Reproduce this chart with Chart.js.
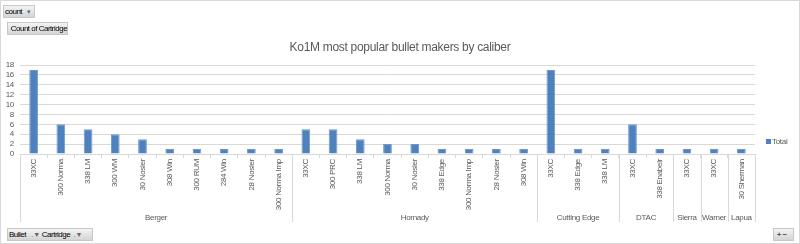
<!DOCTYPE html>
<html>
<head>
<meta charset="utf-8">
<script src="https://cdn.jsdelivr.net/npm/chart.js@4/dist/chart.umd.min.js"></script>
<style>
  html, body { margin: 0; padding: 0; background: #fff; }
  #wrap { position: relative; width: 800px; height: 244px; box-sizing: border-box; border: 1px solid #d9d9d9; overflow: hidden; }
  #wrap canvas { position: absolute; left: -1px; top: -1px; }
  .btn { position: absolute; font: 8px 'Liberation Sans', sans-serif; color: #000; letter-spacing: -0.5px;
         background: linear-gradient(#f4f4f4, #d4d4d4); border: 1px solid #c8c8c8; box-sizing: border-box;
         line-height: 12px; padding: 0 1px; white-space: nowrap; }
  .btn span { color: #666; font-size: 7px; letter-spacing: 0; }
</style>
</head>
<body>
<div id="wrap">
  <canvas id="myChart" width="800" height="244"></canvas>
  <div class="btn" style="left:2px;top:4px;height:13px;width:32px;">count &nbsp;&nbsp;<span>&#9662;</span></div>
  <div class="btn" style="left:6px;top:21px;height:13px;width:61px;">&nbsp;Count of Cartridge</div>
  <div class="btn" style="left:6px;top:227px;height:13px;width:86px;">Bullet &nbsp;&nbsp;<span>.&#9660;</span> Cartridge &nbsp;<span>.&#9660;</span></div>
  <div class="btn" style="left:772px;top:227px;height:13px;width:21px;">&nbsp;+ &minus;</div>
</div>
<script>
const groups = ['Berger', 'Hornady', 'Cutting Edge', 'DTAC', 'Sierra', 'Warner', 'Lapua'];
const groupSizes = [10, 9, 3, 2, 1, 1, 1];
const cartridges = [
  '33XC', '300 Norma', '338 LM', '300 WM', '30 Nosler', '308 Win', '300 RUM', '284 Win', '28 Nosler', '300 Norma Imp',
  '33XC', '300 PRC', '338 LM', '300 Norma', '30 Nosler', '338 Edge', '300 Norma Imp', '28 Nosler', '308 Win',
  '33XC', '338 Edge', '338 LM',
  '33XC', '338 Enabelr',
  '33XC',
  '33XC',
  '30 Sherman'
];
const counts = [
  17, 6, 5, 4, 3, 1, 1, 1, 1, 1,
  5, 5, 3, 2, 2, 1, 1, 1, 1,
  17, 1, 1,
  6, 1,
  1,
  1,
  1
];
const yTicks = [0, 2, 4, 6, 8, 10, 12, 14, 16, 18];
const chartTitle = 'Ko1M most popular bullet makers by caliber';

const FONT = "'Liberation Sans', sans-serif";
const GRAY = '#595959';
const LINE = '#d9d9d9';

const groupAxis = {
  id: 'groupAxis',
  beforeDraw(chart) {
    // Calibri-like narrow text
    chart.ctx.letterSpacing = '-0.3px';
  },
  afterDraw(chart) {
    const ctx = chart.ctx;
    const x = chart.scales.x;
    const top = x.top;
    const n = cartridges.length;
    const step = (x.right - x.left) / n;
    ctx.save();
    // title, centred on the whole picture
    ctx.fillStyle = GRAY;
    ctx.font = '12px ' + FONT;
    ctx.textAlign = 'center';
    ctx.textBaseline = 'middle';
    ctx.fillText(chartTitle, 400, 48);

    ctx.strokeStyle = LINE;
    ctx.lineWidth = 1;
    ctx.font = '8px ' + FONT;
    let start = 0;
    const edge = (i) => Math.round(x.left + i * step) + 0.5;
    ctx.beginPath();
    ctx.moveTo(edge(0), top);
    ctx.lineTo(edge(0), 222);
    ctx.stroke();
    groups.forEach((g, gi) => {
      const end = start + groupSizes[gi];
      ctx.beginPath();
      ctx.moveTo(edge(end), top);
      ctx.lineTo(edge(end), 222);
      ctx.stroke();
      ctx.fillText(g, (x.left + start * step + x.left + end * step) / 2, 218);
      start = end;
    });
    // legend
    const ds = chart.data.datasets[0];
    ctx.fillStyle = ds.backgroundColor;
    ctx.fillRect(766, 139, 5, 5);
    ctx.fillStyle = GRAY;
    ctx.textAlign = 'left';
    ctx.fillText(ds.label, 772, 142);
    ctx.restore();
  }
};

new Chart(document.getElementById('myChart'), {
  type: 'bar',
  data: {
    labels: cartridges,
    datasets: [{
      label: 'Total',
      data: counts,
      backgroundColor: '#4f81bd',
      borderColor: '#6f97cc',
      borderWidth: 1,
      barPercentage: 0.32,
      categoryPercentage: 1
    }]
  },
  options: {
    responsive: false,
    animation: false,
    layout: { padding: { left: 4, right: 45, top: 65, bottom: 24 } },
    plugins: {
      legend: { display: false },
      tooltip: { enabled: false },
      title: { display: false }
    },
    scales: {
      x: {
        offset: true,
        grid: { display: true, drawOnChartArea: false, drawTicks: true, tickLength: 4, color: LINE, offset: true },
        border: { color: LINE },
        ticks: { color: GRAY, font: { family: FONT, size: 8 }, minRotation: 90, maxRotation: 90, autoSkip: false, padding: 1 },
        afterFit(scale) { scale.height = 66; }
      },
      y: {
        min: 0,
        max: 18,
        afterBuildTicks(scale) { scale.ticks = yTicks.map(v => ({ value: v })); },
        grid: { color: LINE, drawTicks: false },
        border: { display: false },
        ticks: { color: GRAY, font: { family: FONT, size: 8 }, padding: 6, autoSkip: false },
        afterFit(scale) { scale.width = 16; }
      }
    }
  },
  plugins: [groupAxis]
});
</script>
</body>
</html>
